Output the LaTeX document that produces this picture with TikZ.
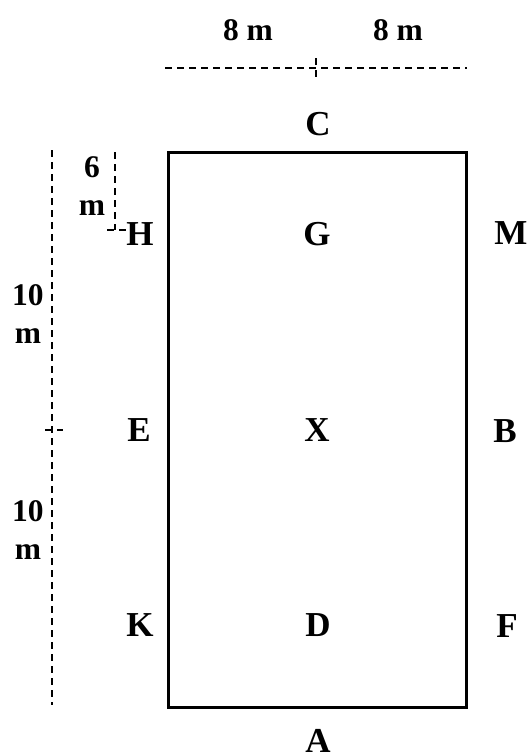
\documentclass[tikz,border=0pt]{standalone}
\usepackage{fontspec}
\setmainfont{Liberation Serif}
\begin{document}
\begin{tikzpicture}[x=1pt,y=-1pt,
  letter/.style={font=\fontsize{35}{38}\selectfont\bfseries, anchor=base, inner sep=0pt},
  dim/.style={font=\fontsize{31.5}{38}\selectfont\bfseries, anchor=base, inner sep=0pt, align=center},
  dimline/.style={line width=2pt, dash pattern=on 7pt off 5pt},
  arena/.style={line width=3pt}]
\useasboundingbox (0,0) rectangle (531,753);
% arena
\coordinate (nw) at (168,152);
\coordinate (se) at (466,707);
\draw[arena] (nw) rectangle (se);
% letters
\node[letter] (C) at (318,135) {C};
\node[letter] (H) at (140,245) {H};
\node[letter] (G) at (317,245) {G};
\node[letter] (M) at (511,244) {M};
\node[letter] (E) at (139,441) {E};
\node[letter] (X) at (317,441) {X};
\node[letter] (B) at (505,442) {B};
\node[letter] (K) at (140,636) {K};
\node[letter] (D) at (318,636) {D};
\node[letter] (F) at (507,637) {F};
\node[letter] (A) at (318,752) {A};
% dimension labels
\node[dim] (w1) at (248,40) {8 m};
\node[dim] (w2) at (398,40) {8 m};
\node[dim] (h6) at (92,215) {6\\m};
\node[dim] (h10a) at (28,343) {10\\m};
\node[dim] (h10b) at (28,559) {10\\m};
% dimension lines
\coordinate (tl) at (165,68);
\coordinate (tr) at (467,68);
\coordinate (tt) at (316,58);
\coordinate (tb) at (316,78);
\draw[dimline] (tl) -- (tr);
\draw[dimline] (tt) -- (tb);
\coordinate (lt) at (52,150);
\coordinate (lb) at (52,705);
\coordinate (el) at (45,430);
\coordinate (er) at (63,430);
\draw[dimline] (lt) -- (lb);
\draw[dimline] (el) -- (er);
\coordinate (st) at (115,152);
\coordinate (sb) at (115,230);
\coordinate (sl) at (107,230);
\coordinate (sr) at (127,230);
\draw[dimline] (st) -- (sb);
\draw[dimline] (sl) -- (sr);
\end{tikzpicture}
\end{document}
